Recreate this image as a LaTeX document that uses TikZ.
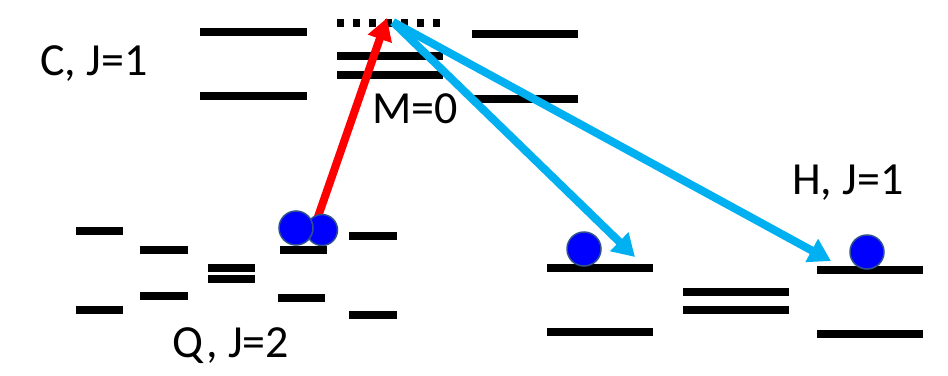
\documentclass[tikz,border=0pt]{standalone}
\usepackage{fontspec}
\setmainfont{Carlito}
\usetikzlibrary{arrows.meta}
\definecolor{skyblue}{HTML}{00B0F0}
\definecolor{ballrim}{HTML}{2F528F}
\begin{document}
\begin{tikzpicture}[x=1pt,y=-1pt,
  level/.style={line width=7.5pt},
  virtual/.style={line width=7.5pt, dash pattern=on 7.3pt off 8.7pt},
  pump/.style={red, line width=8pt, -{Triangle[length=22pt,width=24pt]}},
  dump/.style={skyblue, line width=8pt, -{Triangle[length=22pt,width=25pt]}},
  ball/.style={circle, draw=ballrim, line width=1.5pt, fill={rgb,255:red,0;green,0;blue,255}, minimum size=34pt, inner sep=0pt},
  lbl/.style={font=\fontsize{46}{50}\selectfont, anchor=base, inner sep=0pt}]
\useasboundingbox (0,0) rectangle (948,375);

% C, J=1 manifold
\draw[level] (200,32) -- (307,32);
\draw[level] (200,96) -- (307,96);
\draw[virtual] (337,23) -- (443,23);
\draw[level] (337,56) -- (443,56);
\draw[level] (337,75) -- (443,75);
\draw[level] (472,34) -- (578,34);
\draw[level] (472,99) -- (578,99);

% Q, J=2 manifold
\draw[level] (76,231) -- (123,231);
\draw[level] (76,310) -- (123,310);
\draw[level] (140,250) -- (188,250);
\draw[level] (140,296) -- (188,296);
\draw[level] (208,268) -- (255,268);
\draw[level] (208,279) -- (255,279);
\draw[level] (280,250) -- (327,250);
\draw[level] (278,298) -- (325,298);
\draw[level] (349,236) -- (397,236);
\draw[level] (349,315) -- (397,315);

% H, J=1 manifold
\draw[level] (547,268) -- (653,268);
\draw[level] (547,332) -- (653,332);
\draw[level] (683,292) -- (789,292);
\draw[level] (683,310) -- (789,310);
\draw[level] (817,270) -- (923,270);
\draw[level] (817,334) -- (923,334);

% labels
\node[lbl] (lc) at (94,75) {C, J=1};
\node[lbl] (lm) at (415,123) {M=0};
\node[lbl] (lq) at (231,357) {Q, J=2};
\node[lbl] (lh) at (848,194) {H, J=1};

% transition end points
\coordinate (pumpstart) at (312,234);
\coordinate (top) at (387,18);
\coordinate (dumpstart) at (393,22);
\coordinate (tipa) at (635,257);
\coordinate (tipb) at (831,261);

\draw[pump] (pumpstart) -- (top);
\draw[dump] (dumpstart) -- (tipa);
\draw[dump] (dumpstart) -- (tipb);

% populations
\node[ball, minimum size=31pt] (q2) at (322,230) {};
\node[ball] (q1) at (296,228) {};
\node[ball] (ha) at (584,249) {};
\node[ball] (hb) at (867,252) {};
\end{tikzpicture}
\end{document}
